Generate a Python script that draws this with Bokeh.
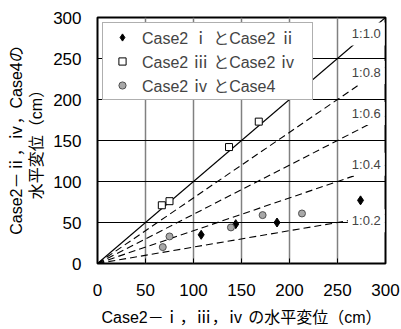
from bokeh.plotting import figure
from bokeh.models import Label, Legend, LegendItem, Range1d, FixedTicker
from bokeh.embed import file_html
from bokeh.resources import INLINE

# Data
case_i_x = [108, 144, 187, 274]
case_i_y = [35, 48, 50, 77]
case_iii_x = [67, 75, 137, 168, 209]
case_iii_y = [71, 76, 142, 173, 215]
case_iv_x = [68, 75, 139, 172, 213]
case_iv_y = [20, 33, 44, 59, 61]

ratios = [1.0, 0.8, 0.6, 0.4, 0.2]
ratio_labels = ["1:1.0", "1:0.8", "1:0.6", "1:0.4", "1:0.2"]
label_y = [280, 233, 183, 121, 52]
ticks = [0, 50, 100, 150, 200, 250, 300]

x_title = "Case2－ⅰ，ⅲ，ⅳ の水平変位（cm）"
y_title = "Case2－ⅱ，ⅳ，Case4の\n水平変位（cm）"

FONT = "Liberation Sans, Noto Sans CJK JP"
NUMFONT = "Liberation Sans"

p = figure(width=401, height=329, output_backend="svg", toolbar_location=None,
           x_range=Range1d(0, 300), y_range=Range1d(0, 300),
           min_border_left=97, min_border_right=16, min_border_top=17, min_border_bottom=66)
p.outline_line_color = "black"
p.outline_line_width = 2
p.background_fill_color = "white"

# grid
p.xgrid.ticker = FixedTicker(ticks=ticks)
p.ygrid.ticker = FixedTicker(ticks=ticks)
p.xgrid.grid_line_color = "#808080"
p.xgrid.grid_line_width = 1.5
p.ygrid.grid_line_color = "black"
p.ygrid.grid_line_width = 1.1

for ax in (p.xaxis[0], p.yaxis[0]):
    ax.ticker = FixedTicker(ticks=ticks)
    ax.axis_line_color = None
    ax.major_tick_in = 5
    ax.major_tick_out = 0
    ax.major_tick_line_color = "black"
    ax.minor_tick_line_color = None
    ax.major_label_text_font = NUMFONT
    ax.major_label_text_font_size = "17px"
    ax.major_label_text_color = "black"
    ax.axis_label_text_font = FONT
    ax.axis_label_text_font_size = "16px"
    ax.axis_label_text_font_style = "normal"
    ax.axis_label_text_color = "black"

p.xaxis.major_label_standoff = 20
p.yaxis.major_label_standoff = 16
p.xaxis.axis_label = x_title
p.xaxis.axis_label_standoff = 10
p.yaxis.axis_label = y_title
p.yaxis.axis_label_standoff = 5
p.yaxis.axis_label_text_line_height = 1.17

# reference lines
for r in ratios:
    dash = "solid" if r == 1.0 else "7 4"
    p.line([0, 300], [0, 300 * r], line_color="black", line_width=1.1, line_dash=dash)

for txt, ly in zip(ratio_labels, label_y):
    p.add_layout(Label(x=280, y=ly, text=txt, text_font=NUMFONT, text_font_size="13px",
                       text_align="center", text_baseline="middle",
                       background_fill_color="white", padding=4))

r1 = p.scatter(case_i_x, case_i_y, marker="diamond", size=9, fill_color="black",
               line_color="black")
r2 = p.scatter(case_iii_x, case_iii_y, marker="square", size=7, fill_color="white",
               line_color="black", line_width=1)
r3 = p.scatter(case_iv_x, case_iv_y, marker="circle", size=7, fill_color="#a8a8a8",
               line_color="#505050", line_width=1)

legend = Legend(items=[
    LegendItem(label="Case2 ⅰ とCase2 ⅱ", renderers=[r1]),
    LegendItem(label="Case2 ⅲ とCase2 ⅳ", renderers=[r2]),
    LegendItem(label="Case2 ⅳ とCase4", renderers=[r3]),
], location="top_left")
legend.margin = 5
legend.padding = 2
legend.spacing = 0
legend.label_height = 18
legend.glyph_height = 18
legend.glyph_width = 34
legend.label_standoff = 3
legend.label_width = 168
legend.label_text_font = FONT
legend.label_text_font_size = "16px"
legend.border_line_color = "#606060"
legend.border_line_width = 1.2
legend.background_fill_alpha = 1
p.add_layout(legend)

open("out.html", "w").write(file_html(p, INLINE))
